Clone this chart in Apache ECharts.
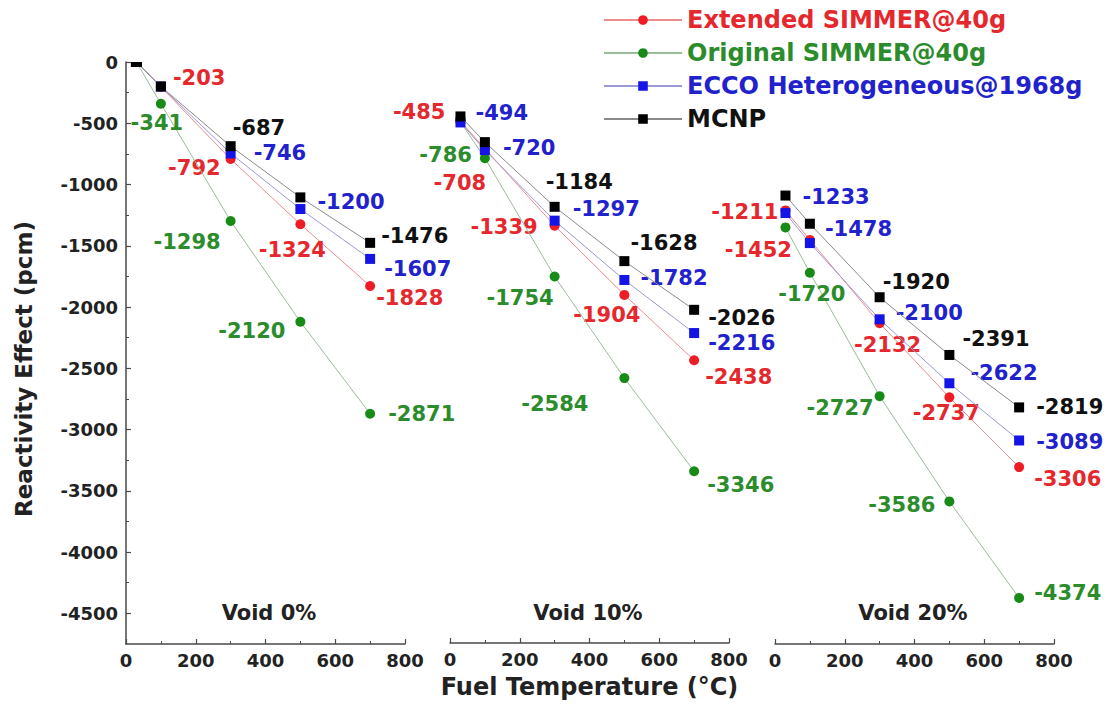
<!DOCTYPE html>
<html><head><meta charset="utf-8">
<script src="https://cdn.jsdelivr.net/npm/echarts@6/dist/echarts.min.js"></script>
<style>html,body{margin:0;padding:0;background:#fff}#c{width:1114px;height:704px}</style>
</head><body><div id="c"></div>
<script>
// ---------------- data ----------------
const temperatures = [30, 100, 300, 500, 700];
const panelNames = ['Void 0%', 'Void 10%', 'Void 20%'];
const seriesNames = ['Extended SIMMER@40g', 'Original SIMMER@40g', 'ECCO Heterogeneous@1968g', 'MCNP'];
// values per panel (Void 0%, 10%, 20%), per temperature
const extendedSimmer = [[0, -203, -792, -1324, -1828], [-485, -708, -1339, -1904, -2438], [-1211, -1452, -2132, -2737, -3306]];
const originalSimmer = [[0, -341, -1298, -2120, -2871], [-490, -786, -1754, -2584, -3346], [-1350, -1720, -2727, -3586, -4374]];
const eccoHetero     = [[0, -200, -746, -1200, -1607], [-494, -720, -1297, -1782, -2216], [-1233, -1478, -2100, -2622, -3089]];
const mcnp           = [[0, -200, -687, -1105, -1476], [-445, -655, -1184, -1628, -2026], [-1090, -1320, -1920, -2391, -2819]];
const xTicks = [0, 200, 400, 600, 800];
const yTicks = [0, -500, -1000, -1500, -2000, -2500, -3000, -3500, -4000, -4500];
const yMinorTicks = [-250, -750, -1250, -1750, -2250, -2750, -3250, -3750, -4250];

// ---------------- label layout (align, dx, dy) ----------------
const labelLayout = [
  [ // Extended
    [0, ['left', 12, -9], ['right', -10, 9], ['center', -8, 26], ['left', 6, 12]],
    [['right', -15, -9], ['center', -25, 34], ['right', -17, 1], ['right', 16, 20], ['left', 11, 17]],
    [['right', -7, 2], ['right', -18, 10], ['center', 8, 22], ['center', -3, 16], ['left', 15, 12]]
  ],
  [ // Original
    [0, ['center', -4, 19], ['right', -10, 21], ['right', -15, 9], ['left', 18, 0]],
    [0, ['right', -13, -3], ['right', -1, 21], ['right', -36, 26], ['left', 13, 14]],
    [0, ['center', 2, 21], ['right', -6, 12], ['right', -14, 4], ['left', 15, -5]]
  ],
  [ // ECCO
    [0, 0, ['left', 23, 0], ['left', 17, -7], ['left', 14, 10]],
    [['left', 15, -9], ['left', 18, -2], ['left', 18, -12], ['left', 16, -2], ['left', 14, 10]],
    [['left', 17, -16], ['left', 15, -14], ['left', 16, -6], ['left', 21, -10], ['left', 17, 2]]
  ],
  [ // MCNP
    [0, 0, ['left', 2, -18], 0, ['left', 11, -7]],
    [0, 0, ['left', -9, -25], ['left', 6, -18], ['left', 14, 8]],
    [0, 0, ['left', 3, -15], ['left', 13, -16], ['left', 17, 0]]
  ]
];

// ---------------- styles ----------------
const FONT = 'DejaVu Sans';
const markerColors = ['#ee1c24', '#178a17', '#1414e6', '#000000'];
const lineColors = ['#ec8c8c', '#99bd99', '#9a9ad6', '#8a8a8a'];
const textColors = ['#e5282d', '#2b8c2b', '#2222cc', '#111111'];
const symbols = ['circle', 'circle', 'rect', 'rect'];
const symbolSizes = [10, 10, 10, 10];
const allValues = [extendedSimmer, originalSimmer, eccoHetero, mcnp];

const gridLefts = [126, 450, 775];
const GRID_W = 279, GRID_TOP = 62, GRID_BOTTOM = 60;
const AXIS_COLOR = '#4a4a4a';
const plain = v => String(v);

const grids = gridLefts.map(l => ({left: l, width: GRID_W, top: GRID_TOP, bottom: GRID_BOTTOM, containLabel: false}));

const xAxes = gridLefts.map((l, i) => ({
  type: 'value', gridIndex: i, min: 0, max: 800, interval: 200,
  axisLine: {show: true, onZero: false, lineStyle: {color: AXIS_COLOR, width: 1.5}},
  axisTick: {show: true, inside: true, length: 5, lineStyle: {color: AXIS_COLOR, width: 1.2}},
  minorTick: {show: true, splitNumber: 2, length: 3, lineStyle: {color: AXIS_COLOR, width: 1}},
  splitLine: {show: false},
  axisLabel: {show: true, margin: 7, color: '#222', fontFamily: FONT, fontWeight: 'bold', fontSize: 18,
    customValues: xTicks, formatter: plain},
  name: i === 1 ? 'Fuel Temperature (°C)' : '',
  nameLocation: 'middle', nameGap: 32,
  nameTextStyle: {color: '#222', fontFamily: FONT, fontWeight: 'bold', fontSize: 24}
}));

const yAxes = [];
gridLefts.forEach((l, i) => {
  yAxes.push({
    type: 'value', gridIndex: i, min: -4750, max: 0, show: i === 0,
    axisLine: {show: true, onZero: false, lineStyle: {color: AXIS_COLOR, width: 1.5}},
    axisTick: {show: true, inside: true, length: 5, customValues: yTicks, lineStyle: {color: AXIS_COLOR, width: 1.2}},
    splitLine: {show: false},
    axisLabel: {show: true, margin: 8, color: '#222', fontFamily: FONT, fontWeight: 'bold', fontSize: 18,
      customValues: yTicks, formatter: plain}
  });
});
// minor ticks for the left axis
yAxes.push({
  type: 'value', gridIndex: 0, min: -4750, max: 0, position: 'left',
  axisLine: {show: false},
  axisTick: {show: true, inside: true, length: 3, customValues: yMinorTicks, lineStyle: {color: AXIS_COLOR, width: 1}},
  axisLabel: {show: false, customValues: yMinorTicks},
  splitLine: {show: false}
});

const series = [];
for (let p = 0; p < 3; p++) {
  for (let s = 0; s < 4; s++) {
    const data = temperatures.map((t, k) => {
      const v = allValues[s][p][k];
      const item = {value: [t, v]};
      const L = labelLayout[s][p][k];
      if (L) {
        item.label = {show: true, position: 'inside', align: L[0], verticalAlign: 'middle',
          offset: [L[1], L[2]], formatter: String(v)};
      }
      if (v === 0) { // marker sitting on the top frame: only lower half visible
        item.symbol = 'rect'; item.symbolSize = [11, 5]; item.symbolOffset = [0, 2.5];
      }
      return item;
    });
    series.push({
      name: seriesNames[s], type: 'line', xAxisIndex: p, yAxisIndex: p,
      data, symbol: symbols[s], symbolSize: symbolSizes[s], showAllSymbol: true, clip: false,
      lineStyle: {color: lineColors[s], width: 1},
      itemStyle: {color: markerColors[s]},
      label: {show: false, color: textColors[s], fontFamily: FONT, fontWeight: 'bold', fontSize: 21},
      emphasis: {disabled: true},
      animation: false, z: 2 + s
    });
  }
}

const panelLabelX = [269, 588, 913];
const graphic = panelNames.map((n, i) => ({
  type: 'text', x: panelLabelX[i], y: 613,
  style: {text: n, fill: '#222', font: 'bold 21px "' + FONT + '"', textAlign: 'center', textVerticalAlign: 'middle'}
}));
graphic.push({
  type: 'text', x: 24, y: 369, rotation: Math.PI / 2,
  style: {text: 'Reactivity Effect (pcm)', fill: '#222', font: 'bold 23px "' + FONT + '"', textAlign: 'center', textVerticalAlign: 'middle'}
});

const option = {
  backgroundColor: '#ffffff',
  animation: false,
  grid: grids,
  xAxis: xAxes,
  yAxis: yAxes,
  legend: {
    orient: 'vertical', left: 603, top: 8, padding: 0, itemGap: 9,
    itemWidth: 78, itemHeight: 12,
    data: seriesNames.map((n, i) => ({name: n, textStyle: {color: textColors[i]}})),
    textStyle: {fontFamily: FONT, fontWeight: 'bold', fontSize: 24},
    selectedMode: false
  },
  graphic,
  series
};

const chart = echarts.init(document.getElementById('c'), null, {renderer: 'svg'});
chart.setOption(option);
</script></body></html>
